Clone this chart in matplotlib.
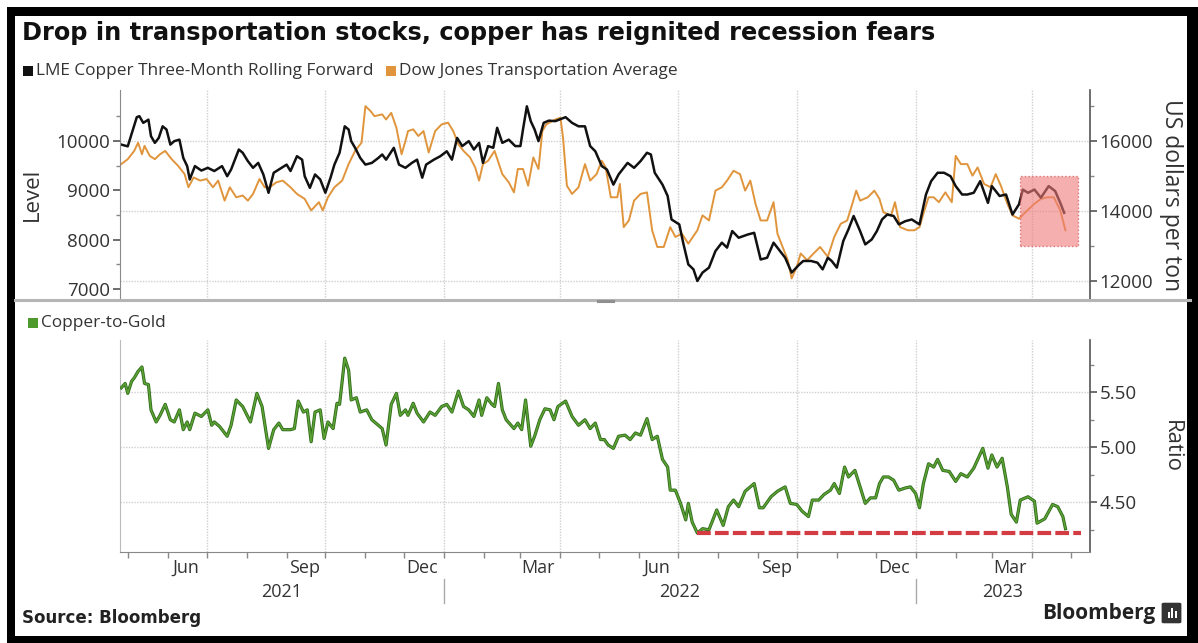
import matplotlib
matplotlib.use("Agg")
import matplotlib.pyplot as plt
import matplotlib.dates as mdates
import matplotlib.patheffects as pe
from matplotlib.patches import Rectangle, FancyBboxPatch
from matplotlib.lines import Line2D
from matplotlib.ticker import FixedLocator, NullFormatter
import pandas as pd

W, H = 1198, 643
START = pd.Timestamp("2021-04-23")   # day 0 of the series below

# LME copper, 3-month rolling forward (left axis)
copper_day = [3, 8, 15, 17, 20, 24, 26, 29, 32, 35, 38, 41, 44, 48, 51, 54, 56, 60, 65, 70,
              75, 81, 85, 88, 94, 97, 101, 105, 109, 113, 117, 121, 127, 131, 134, 139, 143, 145, 149, 153,
              157, 161, 165, 168, 172, 176, 179, 181, 184, 188, 192, 197, 202, 205, 208, 214, 218, 223, 228, 232,
              236, 239, 245, 250, 255, 259, 263, 267, 272, 276, 280, 283, 287, 291, 294, 298, 303, 308, 312, 314,
              317, 320, 323, 326, 330, 334, 339, 347, 352, 357, 362, 366, 370, 375, 379, 384, 388, 395, 400, 405,
              410, 413, 416, 422, 426, 429, 435, 438, 442, 446, 449, 453, 458, 463, 468, 472, 476, 481, 488, 493,
              498, 503, 508, 513, 517, 522, 528, 531, 537, 542, 546, 550, 553, 557, 562, 566, 570, 575, 579, 584,
              588, 592, 596, 601, 605, 610, 615, 621, 626, 630, 635, 640, 645, 649, 654, 658, 663, 668, 674, 677,
              683, 688, 693, 698, 701, 705, 710, 715, 721, 726, 730, 733]
copper = [9925, 9890, 10480, 10500, 10365, 10430, 10095, 9960, 10060, 10295, 10230, 9925, 9995, 10025, 9655, 9490, 9220, 9490, 9400, 9455,
          9390, 9490, 9285, 9420, 9825, 9760, 9590, 9455, 9555, 9320, 8950, 9355, 9455, 9520, 9390, 9690, 9620, 9285, 9050, 9320,
          9220, 8950, 9255, 9520, 9760, 10295, 10230, 9995, 9860, 9655, 9520, 9555, 9655, 9725, 9620, 9860, 9520, 9455, 9555, 9620,
          9255, 9520, 9620, 9690, 9790, 9620, 10060, 9895, 9995, 9825, 9960, 9555, 9895, 9860, 10265, 9960, 10025, 9895, 9895, 10230,
          10700, 10400, 10230, 9995, 10365, 10410, 10400, 10480, 10365, 10295, 10295, 9895, 9790, 9490, 9420, 9115, 9320, 9555, 9455, 9590,
          9760, 9725, 9355, 9115, 8885, 8410, 8310, 7940, 7500, 7400, 7165, 7335, 7435, 7770, 7940, 7840, 8175, 8040, 8105, 8140,
          7600, 7635, 7940, 7770, 7635, 7335, 7500, 7570, 7570, 7535, 7400, 7635, 7570, 7435, 7975, 8210, 8480, 8175, 7905, 8005,
          8175, 8410, 8510, 8480, 8310, 8375, 8410, 8310, 8915, 9185, 9355, 9355, 9285, 9085, 8915, 8915, 8950, 9185, 8745, 9085,
          8885, 8915, 8510, 8715, 9015, 8950, 9015, 8850, 9085, 8985, 8745, 8545]

# Dow Jones Transportation Average (right axis)
djt_day = [3, 8, 13, 16, 19, 21, 25, 29, 33, 37, 42, 47, 52, 55, 59, 64, 69, 74, 78, 83,
           87, 92, 97, 101, 105, 110, 114, 118, 123, 128, 134, 139, 145, 150, 156, 159, 163, 168, 174, 179,
           184, 189, 192, 196, 199, 205, 208, 212, 216, 220, 223, 225, 229, 233, 237, 241, 246, 251, 256, 260,
           264, 268, 273, 277, 280, 283, 287, 292, 298, 303, 307, 310, 314, 318, 322, 326, 329, 332, 339, 343,
           345, 348, 352, 357, 362, 366, 371, 375, 378, 382, 387, 389, 392, 396, 400, 405, 410, 414, 418, 423,
           428, 432, 437, 442, 449, 453, 458, 463, 468, 472, 477, 482, 486, 490, 494, 498, 503, 508, 511, 515,
           519, 522, 526, 529, 534, 539, 544, 550, 555, 560, 565, 569, 572, 575, 581, 586, 590, 593, 599, 602,
           606, 612, 617, 621, 624, 628, 632, 636, 641, 646, 649, 653, 658, 662, 666, 671, 676, 680, 684, 689,
           693, 698, 703, 710, 715, 720, 725, 730, 734]
djt = [15340, 15480, 15715, 15950, 15620, 15860, 15575, 15480, 15620, 15715, 15480, 15290, 15055, 14680, 14960, 14870, 14915, 14680, 14870, 14300,
       14680, 14395, 14445, 14300, 14490, 14915, 14680, 14680, 14820, 14870, 14680, 14490, 14350, 14020, 14255, 14020, 14395, 14680, 14870, 15340,
       15715, 15950, 16990, 16850, 16705, 16755, 16610, 16800, 16375, 15620, 16000, 16280, 16330, 16140, 16280, 15670, 16280, 16470, 16520, 16280,
       15905, 15715, 15530, 15245, 14870, 15340, 15435, 15715, 15055, 14820, 14535, 15200, 15200, 14725, 15530, 15200, 16280, 16470, 16610, 16660,
       16095, 14725, 14490, 14680, 15340, 14870, 15055, 15435, 15245, 14395, 14395, 14775, 13545, 13735, 14300, 14490, 14535, 13455, 12980, 12980,
       13545, 13265, 13360, 13075, 13455, 13880, 13735, 14585, 14680, 14870, 15150, 15055, 14585, 14870, 14210, 13735, 13735, 14255, 13360, 12980,
       12605, 12085, 12415, 12795, 12605, 12795, 12980, 12700, 13265, 13640, 13735, 14210, 14585, 14300, 14395, 14585, 14350, 13970, 13880, 14255,
       13545, 13455, 13455, 13545, 13925, 14395, 14395, 14255, 14535, 14255, 15575, 15340, 15340, 15010, 15245, 14775, 14680, 15055, 14725, 14210,
       13880, 13785, 13970, 14210, 14350, 14395, 14395, 14020, 13455]

# copper-to-gold ratio (lower panel)
ctg_day = [3, 6, 8, 11, 13, 16, 19, 21, 24, 26, 30, 33, 37, 41, 44, 48, 51, 54, 56, 60,
           65, 70, 73, 75, 79, 85, 88, 92, 97, 103, 108, 112, 117, 121, 125, 128, 134, 137, 140, 144,
           147, 150, 153, 157, 160, 163, 167, 170, 172, 176, 179, 181, 185, 188, 193, 197, 202, 205, 208, 212,
           216, 219, 223, 225, 229, 232, 237, 242, 246, 251, 255, 259, 264, 268, 272, 276, 280, 282, 286, 290,
           292, 295, 298, 301, 307, 310, 313, 316, 320, 323, 327, 331, 335, 338, 341, 347, 352, 357, 362, 366,
           370, 374, 377, 380, 384, 388, 393, 397, 401, 405, 410, 414, 418, 422, 426, 428, 432, 436, 440, 442,
           445, 449, 453, 458, 462, 464, 469, 473, 477, 481, 486, 493, 497, 500, 506, 511, 517, 521, 526, 530,
           535, 538, 543, 547, 552, 555, 559, 563, 566, 571, 575, 579, 583, 587, 590, 593, 597, 601, 605, 610,
           614, 618, 621, 624, 628, 632, 635, 639, 644, 649, 653, 658, 663, 670, 674, 677, 681, 685, 689, 692,
           696, 699, 705, 710, 712, 718, 724, 728, 732, 734]
ctg = [5.54, 5.58, 5.49, 5.60, 5.63, 5.69, 5.73, 5.58, 5.57, 5.34, 5.23, 5.29, 5.39, 5.25, 5.23, 5.34, 5.16, 5.23, 5.16, 5.31,
       5.28, 5.34, 5.20, 5.23, 5.19, 5.10, 5.20, 5.43, 5.37, 5.23, 5.49, 5.37, 4.99, 5.16, 5.22, 5.16, 5.16, 5.17, 5.42, 5.32,
       5.34, 5.05, 5.32, 5.34, 5.08, 5.23, 5.17, 5.40, 5.39, 5.81, 5.70, 5.43, 5.45, 5.32, 5.34, 5.25, 5.20, 5.17, 5.02, 5.39,
       5.49, 5.29, 5.34, 5.29, 5.40, 5.31, 5.23, 5.32, 5.29, 5.37, 5.39, 5.32, 5.51, 5.37, 5.34, 5.28, 5.43, 5.29, 5.45, 5.39,
       5.37, 5.58, 5.34, 5.25, 5.17, 5.22, 5.16, 5.43, 5.01, 5.10, 5.25, 5.35, 5.34, 5.25, 5.37, 5.42, 5.28, 5.20, 5.25, 5.17,
       5.22, 5.07, 5.07, 5.02, 4.99, 5.10, 5.11, 5.07, 5.13, 5.11, 5.26, 5.07, 5.10, 4.89, 4.82, 4.61, 4.61, 4.49, 4.34, 4.49,
       4.32, 4.22, 4.26, 4.25, 4.37, 4.43, 4.29, 4.46, 4.52, 4.46, 4.60, 4.67, 4.45, 4.45, 4.55, 4.60, 4.64, 4.49, 4.48, 4.42,
       4.37, 4.52, 4.52, 4.57, 4.61, 4.67, 4.58, 4.82, 4.73, 4.79, 4.64, 4.49, 4.54, 4.54, 4.67, 4.73, 4.73, 4.70, 4.61, 4.63,
       4.64, 4.58, 4.45, 4.67, 4.85, 4.82, 4.89, 4.79, 4.78, 4.69, 4.76, 4.73, 4.81, 4.99, 4.81, 4.93, 4.82, 4.90, 4.64, 4.39,
       4.32, 4.52, 4.55, 4.51, 4.31, 4.35, 4.48, 4.46, 4.37, 4.26]

# highlighted window on the upper panel (dates, right-axis levels)
box_dates = ["2023-03-23", "2023-05-07"]
box_levels = [13000, 15000]
support_end = "2023-05-09"
x_range = ["2021-04-25", "2023-05-16"]

title = "Drop in transportation stocks, copper has reignited recession fears"
copper_name = "LME Copper Three-Month Rolling Forward"
djt_name = "Dow Jones Transportation Average"
ctg_name = "Copper-to-Gold"

BLACK = "#111111"
ORANGE = "#e0953c"
GREEN = "#5da334"
GRID = "#cfcfcf"
TICK = "#333333"

plt.rcParams["font.family"] = ["Open Sans", "DejaVu Sans"]


def days(d):
    return START + pd.to_timedelta(d, unit="D")


def fx(x):
    return x / W


def fy(y):
    return 1 - y / H


fig = plt.figure(figsize=(W / 100, H / 100), dpi=100)
fig.patch.set_facecolor("white")

ax_cu = fig.add_axes([fx(120), fy(300), 970 / W, 210 / H])
ax_dj = ax_cu.twinx()
ax_r = fig.add_axes([fx(120), fy(552), 970 / W, 212 / H])

xmin, xmax = pd.Timestamp(x_range[0]), pd.Timestamp(x_range[1])
quarters = pd.date_range("2021-07-01", xmax, freq="QS")

# upper panel: copper on the left scale, transports on the right
ax_dj.plot(days(djt_day), djt, color=ORANGE, lw=1.4)
ax_cu.plot(days(copper_day), copper, color=BLACK, lw=1.8)
ax_cu.set_zorder(ax_dj.get_zorder() + 1)
ax_cu.patch.set_visible(False)

ax_cu.set_ylim(6780, 11030)
ax_dj.set_ylim(11470, 17450)
for a in (ax_cu, ax_dj, ax_r):
    a.set_xlim(xmin, xmax)

for q in quarters:
    ax_dj.axvline(q, color=GRID, lw=1, ls=(0, (1, 1)), zorder=0)
    ax_r.axvline(q, color=GRID, lw=1, ls=(0, (1, 1)), zorder=0)
for lv in (12000, 14000, 16000):
    ax_dj.axhline(lv, color=GRID, lw=1, ls=(0, (1, 1)), zorder=0)

b0, b1 = mdates.date2num(pd.Timestamp(box_dates[0])), mdates.date2num(pd.Timestamp(box_dates[1]))
box = Rectangle((b0, box_levels[0]), b1 - b0, box_levels[1] - box_levels[0],
                transform=ax_dj.transData, facecolor="#f07a7a", alpha=0.6,
                edgecolor="#cc3333", ls=":", lw=1.0, zorder=5)
ax_cu.add_patch(box)

ax_cu.yaxis.set_major_locator(FixedLocator([7000, 8000, 9000, 10000]))
ax_cu.yaxis.set_minor_locator(FixedLocator([7500, 8500, 9500, 10500]))
ax_dj.yaxis.set_major_locator(FixedLocator([12000, 14000, 16000]))
ax_dj.yaxis.set_minor_locator(FixedLocator([13000, 15000, 17000]))
for a in (ax_cu, ax_dj):
    a.tick_params(axis="y", which="major", length=5, width=1.2, color="#555555",
                  labelsize=13.5, labelcolor=TICK, pad=2)
    a.tick_params(axis="y", which="minor", length=3, width=1, color="#888888")
    a.tick_params(axis="x", which="both", bottom=False, labelbottom=False)
    for s in ("top", "bottom"):
        a.spines[s].set_visible(False)
ax_cu.spines["left"].set_color("#8a8a8a")
ax_cu.spines["right"].set_visible(False)
ax_dj.spines["left"].set_visible(False)
ax_dj.spines["right"].set_color("#555555")
ax_dj.spines["right"].set_linewidth(1.2)

# lower panel: copper-to-gold ratio with the July 2022 low carried forward
for lv in (4.5, 5.0, 5.5):
    ax_r.axhline(lv, color=GRID, lw=1, ls=(0, (1, 1)), zorder=0)
ratio_dates = days(ctg_day)
ax_r.plot(ratio_dates, ctg, color=GREEN, lw=1.1, zorder=3,
          path_effects=[pe.Stroke(linewidth=2.3, foreground="#2e6a1b"), pe.Normal()])
i_low = min(range(len(ctg)), key=lambda i: ctg[i])
ax_r.plot([ratio_dates[i_low], pd.Timestamp(support_end)], [ctg[i_low], ctg[i_low]],
          color="#d43c44", lw=3, dashes=(3.3, 1.0), zorder=4, solid_capstyle="butt")

ax_r.set_ylim(4.048, 5.975)
ax_r.yaxis.tick_right()
ax_r.yaxis.set_major_locator(FixedLocator([4.5, 5.0, 5.5]))
ax_r.yaxis.set_minor_locator(FixedLocator([4.25, 4.75, 5.25, 5.75]))
ax_r.yaxis.set_major_formatter(plt.FuncFormatter(lambda v, p: f"{v:.2f}"))
ax_r.tick_params(axis="y", which="major", length=5, width=1.2, color="#555555",
                 labelsize=13.5, labelcolor=TICK, pad=2)
ax_r.tick_params(axis="y", which="minor", length=3, width=1, color="#888888")
ax_r.spines["top"].set_visible(False)
ax_r.spines["left"].set_color("#bbbbbb")
ax_r.spines["right"].set_color("#555555")
ax_r.spines["right"].set_linewidth(1.2)
ax_r.spines["bottom"].set_color("#888888")

# months: ticks on month starts, labels mid-month each quarter
ax_r.xaxis.set_major_locator(mdates.MonthLocator())
ax_r.xaxis.set_major_formatter(NullFormatter())
ax_r.xaxis.set_minor_locator(mdates.MonthLocator(bymonth=[3, 6, 9, 12], bymonthday=15))
ax_r.xaxis.set_minor_formatter(mdates.DateFormatter("%b"))
ax_r.tick_params(axis="x", which="major", length=4, width=1, color="#888888")
ax_r.tick_params(axis="x", which="minor", length=0, labelsize=13, labelcolor=TICK, pad=5)

tr = ax_r.get_xaxis_transform()
year_edges = [xmin, pd.Timestamp("2022-01-01"), pd.Timestamp("2023-01-01"), xmax]
for lo, hi in zip(year_edges[:-1], year_edges[1:]):
    ax_r.text(lo + (hi - lo) / 2, -0.19, str(lo.year), transform=tr, ha="center", va="center",
              fontsize=13, color=TICK)
for edge in year_edges[1:-1]:
    ax_r.plot([edge, edge], [-0.125, -0.24], transform=tr, color="#aaaaaa", lw=1, clip_on=False)

# headings, legends, axis names
fig.text(fx(22), fy(33), title, fontsize=17.3, fontweight="bold", va="center",
         family="DejaVu Sans", color="#111111")

def legend_key(x, y, color, label):
    fig.patches.append(Rectangle((fx(x), fy(y + 5)), 10 / W, 10 / H, transform=fig.transFigure,
                                 facecolor=color, edgecolor="none"))
    fig.text(fx(x + 13), fy(y), label, fontsize=12.4, va="center", color="#333333")

legend_key(23, 71, BLACK, copper_name)
legend_key(386, 71, ORANGE, djt_name)
legend_key(28, 323, "#4f9a2c", ctg_name)

fig.text(fx(32), fy(194), "Level", rotation=90, ha="center", va="center", fontsize=16, color=TICK)
fig.text(fx(1171), fy(195), "US dollars per ton", rotation=270, ha="center", va="center",
         fontsize=16.5, color=TICK)
fig.text(fx(1171), fy(447), "Ratio", rotation=270, ha="center", va="center", fontsize=16, color=TICK)

# panel divider
fig.add_artist(Line2D([fx(15), fx(1190)], [fy(300), fy(300)], color="#b5b5b5", lw=2.2))
fig.add_artist(Line2D([fx(598), fx(613)], [fy(301), fy(301)], color="#8f8f8f", lw=2.2))

fig.text(fx(22), fy(618), "Source: Bloomberg", fontsize=12, fontweight="bold", va="center",
         family="DejaVu Sans", color="#222222")
fig.text(fx(1155), fy(613), "Bloomberg", fontsize=15, fontweight="bold", ha="right", va="center",
         color="#222222")
fig.patches.append(FancyBboxPatch((fx(1164), fy(622)), 15 / W, 18 / H, boxstyle="round,pad=0.002",
                                  transform=fig.transFigure, facecolor="#333333", edgecolor="none"))
for bx, bh in ((1167.5, 6), (1171, 10), (1174.5, 7)):
    fig.patches.append(Rectangle((fx(bx), fy(618)), 2 / W, bh / H, transform=fig.transFigure,
                                 facecolor="white", edgecolor="none"))

# outer frame
for (x0, y0, w, h) in ((7, 7, 1184, 9), (7, 7, 8, 636), (1187, 7, 11, 636), (7, 636, 1191, 7)):
    fig.patches.append(Rectangle((fx(x0), fy(y0 + h)), w / W, h / H, transform=fig.transFigure,
                                 facecolor="black", edgecolor="none"))

fig.savefig("out.png", dpi=100)
